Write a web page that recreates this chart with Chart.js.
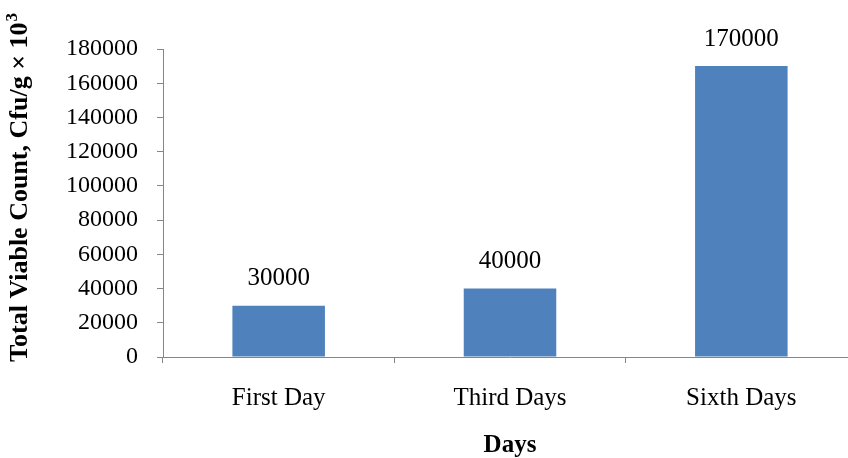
<!DOCTYPE html>
<html>
<head>
<meta charset="utf-8">
<script src="https://cdn.jsdelivr.net/npm/chart.js@4"></script>
<style>
  html, body { margin: 0; padding: 0; background: #ffffff; overflow: hidden; }
  #wrap { width: 860px; height: 458px; }
</style>
</head>
<body>
<div id="wrap"><canvas id="c" width="860" height="458"></canvas></div>
<script>
// Sampling days and total viable counts
const days = ['First Day', 'Third Days', 'Sixth Days'];
const viableCounts = [30000, 40000, 170000];
const yTicks = [0, 20000, 40000, 60000, 80000, 100000, 120000, 140000, 160000, 180000];

const SERIF = '"Liberation Serif", "Times New Roman", serif';
const AXIS_GREY = '#868686';

// Value labels above each bar
const barValueLabels = {
  id: 'barValueLabels',
  afterDatasetsDraw(chart) {
    const ctx = chart.ctx;
    const meta = chart.getDatasetMeta(0);
    ctx.save();
    ctx.font = '25px ' + SERIF;
    ctx.fillStyle = '#000000';
    ctx.textAlign = 'center';
    ctx.textBaseline = 'middle';
    meta.data.forEach((bar, i) => {
      ctx.fillText(String(viableCounts[i]), bar.x, bar.y - 27);
    });
    ctx.restore();
  }
};

// Rotated y-axis title with a superscript exponent
const yAxisTitle = {
  id: 'yAxisTitle',
  afterDraw(chart) {
    const ctx = chart.ctx;
    const main = 'Total Viable Count, Cfu/g \u00d7 10';
    const sup = '3';
    ctx.save();
    ctx.fillStyle = '#000000';
    ctx.font = 'bold 26px ' + SERIF;
    const wMain = ctx.measureText(main).width;
    ctx.font = 'bold 17px ' + SERIF;
    const wSup = ctx.measureText(sup).width;
    const total = wMain + wSup;
    const cx = 20;
    const cy = chart.chartArea.top + 139;
    ctx.translate(cx, cy);
    ctx.rotate(-Math.PI / 2);
    ctx.textBaseline = 'middle';
    ctx.textAlign = 'left';
    ctx.font = 'bold 26px ' + SERIF;
    ctx.fillText(main, -total / 2, 0);
    ctx.font = 'bold 17px ' + SERIF;
    ctx.fillText(sup, -total / 2 + wMain + 1, -7);
    ctx.restore();
  }
};

new Chart(document.getElementById('c'), {
  type: 'bar',
  data: {
    labels: days,
    datasets: [{
      data: viableCounts,
      backgroundColor: '#4F81BD',
      borderWidth: 0,
      barPercentage: 0.4,
      categoryPercentage: 1.0
    }]
  },
  options: {
    responsive: false,
    animation: false,
    devicePixelRatio: 1,
    layout: { padding: { top: 49, right: 3, bottom: 0, left: 0 } },
    plugins: {
      legend: { display: false },
      tooltip: { enabled: false }
    },
    scales: {
      x: {
        offset: true,
        grid: {
          offset: true,
          drawOnChartArea: false,
          drawTicks: true,
          tickLength: 6,
          color: AXIS_GREY
        },
        border: { color: AXIS_GREY, width: 1 },
        ticks: {
          color: '#000000',
          font: { family: SERIF, size: 25 },
          padding: 20,
          maxRotation: 0
        },
        title: {
          display: true,
          text: 'Days',
          color: '#000000',
          font: { family: SERIF, size: 25, weight: 'bold', lineHeight: 1.0 },
          padding: { top: 0, bottom: 0 }
        },
        afterFit(scale) { scale.height = 101; }
      },
      y: {
        min: 0,
        max: 180000,
        afterBuildTicks(scale) { scale.ticks = yTicks.map(v => ({ value: v })); },
        grid: {
          drawOnChartArea: false,
          drawTicks: true,
          tickLength: 6,
          color: AXIS_GREY
        },
        border: { color: AXIS_GREY, width: 1 },
        ticks: {
          color: '#000000',
          font: { family: SERIF, size: 24 },
          padding: 19,
          callback: v => String(v)
        },
        afterFit(scale) { scale.width = 163; }
      }
    }
  },
  plugins: [barValueLabels, yAxisTitle]
});
</script>
</body>
</html>
